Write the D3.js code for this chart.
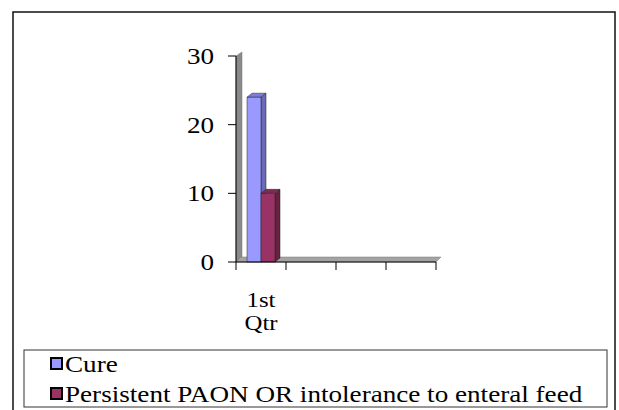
<!DOCTYPE html>
<html>
<head>
  <title>Cure vs persistent PAON</title>
  <meta charset="utf-8" />
  <script src="https://cdn.jsdelivr.net/npm/d3@7"></script>
  <style>
  body { margin: 0; background: #fff; }
  text { font-family: "Liberation Serif", "Times New Roman", serif; fill: #000; }
  </style>
</head>
<body>
  <script>
  // chart data
  var slots = [0, 1, 2, 3];
  var slotLabels = ["1st Qtr", "", "", ""];
  var seriesNames = ["Cure", "Persistent PAON OR intolerance to enteral feed"];
  var cureValues = [24];
  var paonValues = [10];
  var yTicks = [0, 10, 20, 30];

  var W = 619, H = 410;
  var sx = 1.18;          // the picture is stretched sideways
  var dx = 5, dy = -4;    // 3d depth offset

  var svg = d3.select("body").append("svg")
    .attr("width", W)
    .attr("height", H);

  // outer frame
  svg.append("rect").attr("x", 13).attr("y", 12).attr("width", 602).attr("height", 410)
    .attr("fill", "none").attr("stroke", "#111").attr("stroke-width", 1.5);

  var x = d3.scaleBand().domain(slots).range([236, 436]);
  var y = d3.scaleLinear().domain([0, 30]).range([262, 56]);
  var sub = d3.scaleBand().domain(seriesNames).range([11, 39]);

  var fronts = ["#9999ff", "#993366"];
  var sides = ["#6a6ab8", "#66223f"];
  var tops = ["#7c7cd6", "#7d2a55"];

  // back wall and floor
  var x0 = x.range()[0], x1 = x.range()[1], yb = y(0), yt = y(30);
  svg.append("polygon")
    .attr("points", [[x0, yb], [x0, yt], [x0 + dx + 1, yt + dy], [x0 + dx + 1, yb + dy]].join(" "))
    .attr("fill", "#8a8a8a").attr("stroke", "#777").attr("stroke-width", 0.5);
  svg.append("polygon")
    .attr("points", [[x0, yb], [x1, yb], [x1 + dx, yb + dy - 1], [x0 + dx, yb + dy - 1]].join(" "))
    .attr("fill", "#a3a3a3").attr("stroke", "#7a7a7a").attr("stroke-width", 0.5);

  // bars
  var data = [];
  cureValues.forEach(function(v, i) { data.push({ slot: slots[i], s: 0, v: v }); });
  paonValues.forEach(function(v, i) { data.push({ slot: slots[i], s: 1, v: v }); });

  var bars = svg.selectAll("g.bar").data(data).enter().append("g").attr("class", "bar");
  bars.each(function(d) {
    var g = d3.select(this);
    var bx = x(d.slot) + sub(seriesNames[d.s]);
    var bw = sub.bandwidth();
    var top = y(d.v), bot = y(0);
    g.append("polygon")
      .attr("points", [[bx + bw, top], [bx + bw + dx, top + dy], [bx + bw + dx, bot + dy], [bx + bw, bot]].join(" "))
      .attr("fill", sides[d.s]).attr("stroke", "#222").attr("stroke-width", 0.5);
    g.append("polygon")
      .attr("points", [[bx, top], [bx + dx, top + dy], [bx + bw + dx, top + dy], [bx + bw, top]].join(" "))
      .attr("fill", tops[d.s]).attr("stroke", "#222").attr("stroke-width", 0.5);
    g.append("rect")
      .attr("x", bx).attr("y", top).attr("width", bw).attr("height", bot - top)
      .attr("fill", fronts[d.s]).attr("stroke", "#222").attr("stroke-width", 0.5);
  });

  // y axis
  svg.append("line").attr("x1", x0).attr("x2", x0).attr("y1", yt).attr("y2", yb)
    .attr("stroke", "#000").attr("stroke-width", 1);
  yTicks.forEach(function(t) {
    svg.append("line").attr("x1", x0 - 8).attr("x2", x0).attr("y1", y(t)).attr("y2", y(t))
      .attr("stroke", "#000");
    svg.append("g").attr("transform", "translate(214," + (y(t) + 8) + ") scale(" + sx + ",1)")
      .append("text").attr("text-anchor", "end").style("font-size", "23px").text(t);
  });

  // x axis
  svg.append("line").attr("x1", x0).attr("x2", x1).attr("y1", yb).attr("y2", yb)
    .attr("stroke", "#000");
  var edges = slots.map(function(s) { return x(s); }).concat([x1]);
  edges.forEach(function(e) {
    svg.append("line").attr("x1", e).attr("x2", e).attr("y1", yb).attr("y2", yb + 8)
      .attr("stroke", "#000");
  });
  slots.forEach(function(s, i) {
    var words = slotLabels[i].split(" ").filter(function(w) { return w; });
    words.forEach(function(w, j) {
      svg.append("g")
        .attr("transform", "translate(" + (x(s) + x.bandwidth() / 2) + "," + (307 + j * 23) + ") scale(" + sx + ",1)")
        .append("text").attr("text-anchor", "middle").style("font-size", "21px").text(w);
    });
  });

  // legend
  svg.append("rect").attr("x", 24).attr("y", 350).attr("width", 583).attr("height", 57)
    .attr("fill", "#fff").attr("stroke", "#333").attr("stroke-width", 1);
  seriesNames.forEach(function(n, i) {
    var ly = 358 + i * 30;
    svg.append("rect").attr("x", 51).attr("y", ly).attr("width", 11).attr("height", 11)
      .attr("fill", fronts[i]).attr("stroke", "#000").attr("stroke-width", 2);
    svg.append("g").attr("transform", "translate(65," + (ly + 14) + ") scale(" + sx + ",1)")
      .append("text").style("font-size", "23px").text(n);
  });
  </script>
</body>
</html>
